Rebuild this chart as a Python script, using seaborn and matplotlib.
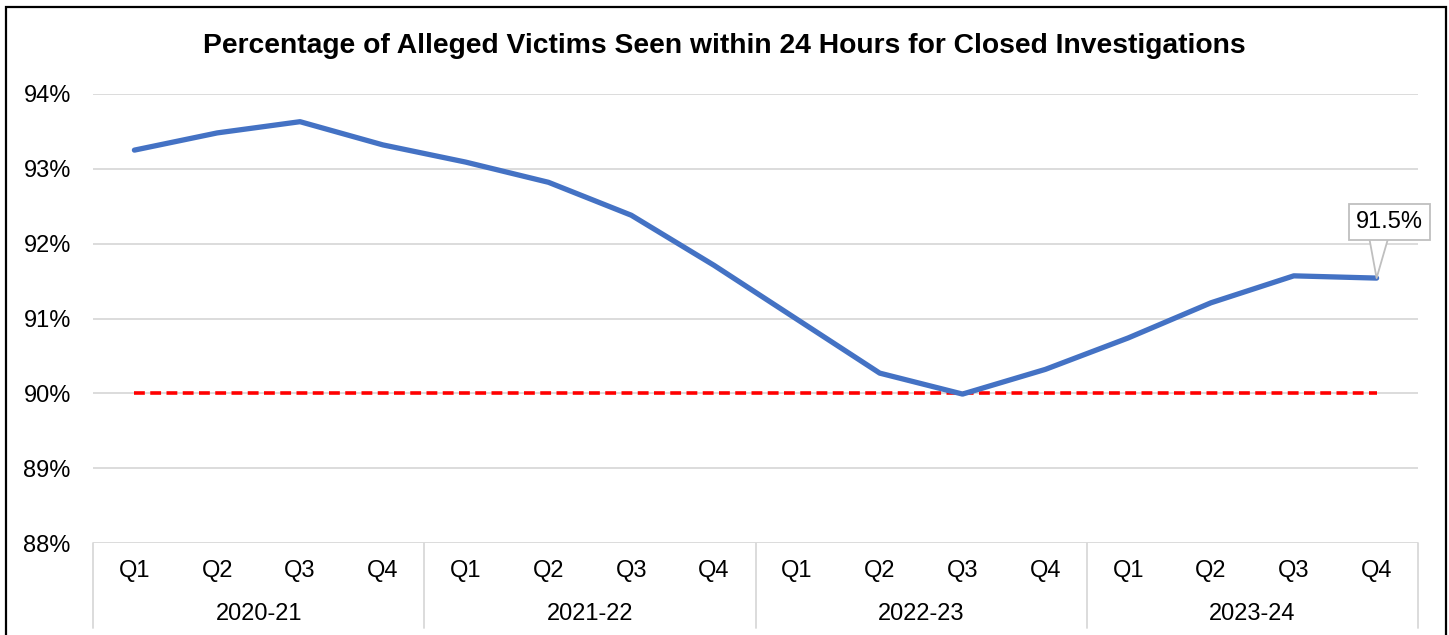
import matplotlib
matplotlib.use("Agg")
import matplotlib.pyplot as plt
import seaborn as sns
import pandas as pd
import numpy as np
from matplotlib.patches import Rectangle
from matplotlib.lines import Line2D

years = ["2020-21", "2021-22", "2022-23", "2023-24"]
quarters = ["Q1", "Q2", "Q3", "Q4"]
values = [93.25, 93.48, 93.63, 93.32,
          93.09, 92.82, 92.38, 91.71,
          90.99, 90.27, 89.99, 90.32,
          90.74, 91.21, 91.57, 91.54]
target = [90.0] * 16
yticks = [88, 89, 90, 91, 92, 93, 94]
title = "Percentage of Alleged Victims Seen within 24 Hours for Closed Investigations"
last_label = "91.5%"

sns.set_theme(style="white")
plt.rcParams['font.family'] = ['Liberation Sans', 'DejaVu Sans']
plt.rcParams['text.color'] = 'black'
plt.rcParams['ytick.color'] = 'black'
plt.rcParams['ytick.labelcolor'] = 'black'

df = pd.DataFrame({"pos": np.arange(len(values)), "value": values, "target": target})

fig = plt.figure(figsize=(14.49, 6.35), dpi=100)
ax = fig.add_axes([93/1449, 1-543/635, (1418-93)/1449, (543-94)/635])

for y in yticks:
    ax.axhline(y, color="#d9d9d9", lw=1.3, zorder=0)

sns.lineplot(data=df, x="pos", y="target", ax=ax, color="#ff0000", lw=2.6,
             linestyle=(0, (3.0, 1.5)), zorder=2)
sns.lineplot(data=df, x="pos", y="value", ax=ax, color="#4472C4", lw=3.8,
             zorder=3, solid_joinstyle="round")

ax.set_xlim(-0.5, len(values) - 0.5)
ax.set_ylim(88, 94)
ax.set_yticks(yticks)
ax.set_yticklabels([f"{y}%" for y in yticks], fontsize=17, color="black")
ax.tick_params(axis="y", length=0, pad=16)
ax.set_xticks([])
ax.set_xlabel("")
ax.set_ylabel("")
for s in ax.spines.values():
    s.set_visible(False)

trans = ax.get_xaxis_transform()
for i in range(len(values)):
    ax.text(i, -(571-543)/449, quarters[i % 4], transform=trans, ha="center",
            va="center", fontsize=17, color="black", clip_on=False)
for j, yr in enumerate(years):
    ax.text(j * 4 + 1.5, -(614-543)/449, yr, transform=trans, ha="center",
            va="center", fontsize=17, color="black", clip_on=False)
for b in [-0.5, 3.5, 7.5, 11.5, 15.5]:
    ax.add_line(Line2D([b, b], [0, -(628-543)/449], transform=trans,
                       color="#d9d9d9", lw=1.3, clip_on=False))

# data label callout
ax.annotate(last_label, xy=(len(values) - 1, values[-1]), xytext=(13, 56),
            textcoords="offset pixels", ha="center", va="center", fontsize=17,
            color="black",
            bbox=dict(boxstyle="square,pad=0.3", fc="white", ec="#bfbfbf", lw=1.3),
            arrowprops=dict(arrowstyle="wedge,tail_width=0.9,shrink_factor=0.5",
                            fc="white", ec="#bfbfbf", lw=1.3,
                            relpos=(0.34, 0.0), patchA=None, shrinkA=0, shrinkB=0),
            zorder=5)

fig.text(0.5, 1 - 46/635, title, ha="center", va="center", fontsize=20.3,
         fontweight="bold", color="black")

fig.patches.append(Rectangle((6/1449, -0.01), (1446-6)/1449, 1 - 7/635 + 0.01,
                             transform=fig.transFigure, fill=False, ec="black",
                             lw=1.6, zorder=10))

fig.savefig("out.png", dpi=100, facecolor="white")
